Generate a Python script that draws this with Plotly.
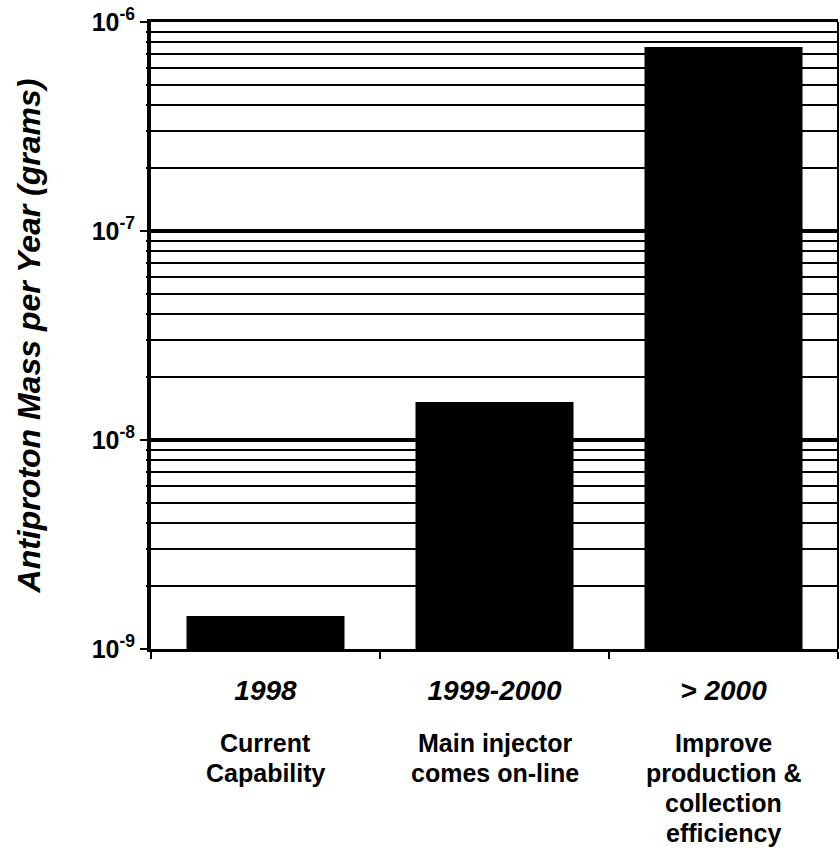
import plotly.graph_objects as go

# ---- data ----
categories = ["1998", "1999-2000", "> 2000"]
descriptions = [["Current", "Capability"],
                ["Main injector", "comes on-line"],
                ["Improve", "production &", "collection", "efficiency"]]
values = [1.44e-9, 1.52e-8, 7.6e-7]

decades = [1e-9, 1e-8, 1e-7, 1e-6]
decade_labels = ["<b>10<sup>-9</sup></b>", "<b>10<sup>-8</sup></b>",
                 "<b>10<sup>-7</sup></b>", "<b>10<sup>-6</sup></b>"]
minor_vals = [m * d for d in decades[:-1] for m in range(2, 10)]

y_title = "<b><i>Antiproton Mass per Year (grams)</i></b>"

FONT = "Liberation Sans, Arial, Helvetica, sans-serif"
Y_RANGE = [-9, -6]

fig = go.Figure()
fig.add_trace(go.Bar(x=categories, y=values, marker=dict(color="black", line=dict(width=0)),
                     width=0.69, yaxis="y", hoverinfo="skip"))
# invisible companion trace to carry the minor-grid axis
fig.add_trace(go.Scatter(x=categories, y=values, yaxis="y2", mode="markers",
                         marker=dict(opacity=0), hoverinfo="skip", showlegend=False))

for i, lines in enumerate(descriptions):
    for k, line in enumerate(lines):
        fig.add_annotation(x=i, xref="x", y=0, yref="paper", yanchor="top",
                           yshift=-78 - 30 * k,
                           text=f"<b>{line}</b>", showarrow=False, align="center",
                           font=dict(size=25, color="black", family=FONT))

fig.add_shape(type="line", xref="paper", yref="paper", x0=1, x1=1, y0=0, y1=1,
              line=dict(color="black", width=2))

fig.update_layout(
    width=840, height=865,
    margin=dict(l=151, r=2, t=22, b=216),
    paper_bgcolor="white", plot_bgcolor="white",
    showlegend=False,
    font=dict(family=FONT, color="black"),
    xaxis=dict(
        type="category",
        tickvals=categories,
        ticktext=[f"<b><i>{c}</i></b>" for c in categories],
        tickfont=dict(size=28, color="black", family=FONT),
        tickson="boundaries", ticks="outside", ticklen=7, tickwidth=2, tickcolor="black",
        showline=True, linewidth=3, linecolor="black", mirror=True,
        showgrid=False, zeroline=False,
        ticklabelstandoff=14,
        range=[-0.5, 2.5],
        automargin=False,
    ),
    yaxis=dict(
        type="log", range=Y_RANGE,
        tickvals=decades, ticktext=decade_labels,
        tickfont=dict(size=25, color="black", family=FONT),
        ticks="outside", ticklen=7, tickwidth=2, tickcolor="black",
        showline=True, linewidth=4, linecolor="black",
        showgrid=True, gridcolor="black", gridwidth=4,
        zeroline=False,
        automargin=False,
        title=dict(text=y_title, font=dict(size=32, color="black", family=FONT), standoff=42),
    ),
    yaxis2=dict(
        type="log", range=Y_RANGE, overlaying="y", side="left",
        tickvals=minor_vals, showticklabels=False,
        ticks="outside", ticklen=4, tickwidth=2, tickcolor="black",
        showgrid=True, gridcolor="black", gridwidth=2,
        showline=False, zeroline=False,
        automargin=False,
    ),
)

fig.write_html("out.html",
               config={"displayModeBar": False},
               post_script="document.body.style.margin='0px';document.body.style.overflow='hidden';")
